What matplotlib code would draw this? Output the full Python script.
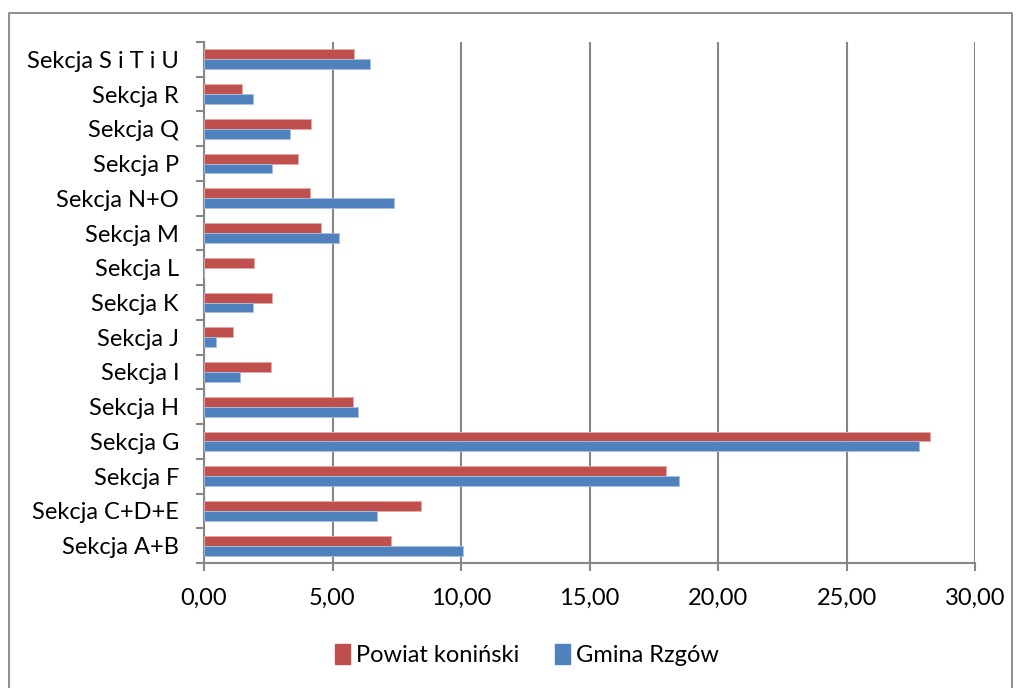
import matplotlib
matplotlib.use("Agg")
import matplotlib.pyplot as plt
import numpy as np
from matplotlib.lines import Line2D
from matplotlib.patches import Patch

categories = ["Sekcja A+B", "Sekcja C+D+E", "Sekcja F", "Sekcja G", "Sekcja H",
              "Sekcja I", "Sekcja J", "Sekcja K", "Sekcja L", "Sekcja M",
              "Sekcja N+O", "Sekcja P", "Sekcja Q", "Sekcja R", "Sekcja S i T i U"]
powiat = [7.26, 8.43, 17.98, 28.26, 5.80, 2.61, 1.11, 2.64, 1.94, 4.56,
          4.13, 3.65, 4.16, 1.49, 5.83]
gmina = [10.08, 6.72, 18.48, 27.82, 6.00, 1.42, 0.46, 1.90, 0.0, 5.26,
         7.41, 2.63, 3.34, 1.90, 6.45]
xticks = [0, 5, 10, 15, 20, 25, 30]
xticklabels = ["0,00", "5,00", "10,00", "15,00", "20,00", "25,00", "30,00"]

RED = "#C0504D"
BLUE = "#4F81BD"
GRID = "#868686"

plt.rcParams['font.family'] = ['Lato', 'DejaVu Sans']
FS = 17

fig = plt.figure(figsize=(10.21, 6.88), dpi=100)
ax = fig.add_axes([204/1021, 1-563/688, (975-204)/1021, (563-42)/688])

y = np.arange(len(categories))
h = 0.285
ax.barh(y + h/2, powiat, height=h, color=RED, edgecolor="#E6A9A8", linewidth=0.6, zorder=3)
ax.barh(y - h/2, gmina, height=h, color=BLUE, edgecolor="#A9C0E0", linewidth=0.6, zorder=3)

ax.set_xlim(0, 30)
ax.set_ylim(-0.5, len(categories) - 0.5)
ax.set_xticks(xticks)
ax.set_xticklabels(xticklabels, fontsize=FS)
ax.set_yticks(y)
ax.set_yticklabels(categories, fontsize=FS)
ax.tick_params(axis='y', length=0, pad=18)
ax.tick_params(axis='x', length=6, color=GRID, width=1.5, pad=12, direction='out')
# category boundary ticks on y axis
ax.set_yticks(np.arange(-0.5, len(categories), 1), minor=True)
ax.tick_params(axis='y', which='minor', length=6, color=GRID, width=1.5, direction='out')

ax.grid(axis='x', color=GRID, linewidth=1.5, zorder=0)
for s in ["top", "right"]:
    ax.spines[s].set_visible(False)
for s in ["left", "bottom"]:
    ax.spines[s].set_color(GRID)
    ax.spines[s].set_linewidth(1.5)

handles = [Patch(facecolor=RED, edgecolor=RED), Patch(facecolor=BLUE, edgecolor=BLUE)]
fig.legend(handles, ["Powiat koniński", "Gmina Rzgów"], loc="center",
           bbox_to_anchor=(527/1021, 1-655/688), ncol=2, frameon=False,
           fontsize=FS, handlelength=0.65, handleheight=0.9, handletextpad=0.25,
           columnspacing=1.5)

# outer chart border
fig.add_artist(Line2D([9/1021, 9/1021, 1012/1021, 1012/1021],
                      [0, 1-13/688, 1-13/688, 0], transform=fig.transFigure,
                      color=GRID, linewidth=1.3))

fig.savefig("out.png", dpi=100)
